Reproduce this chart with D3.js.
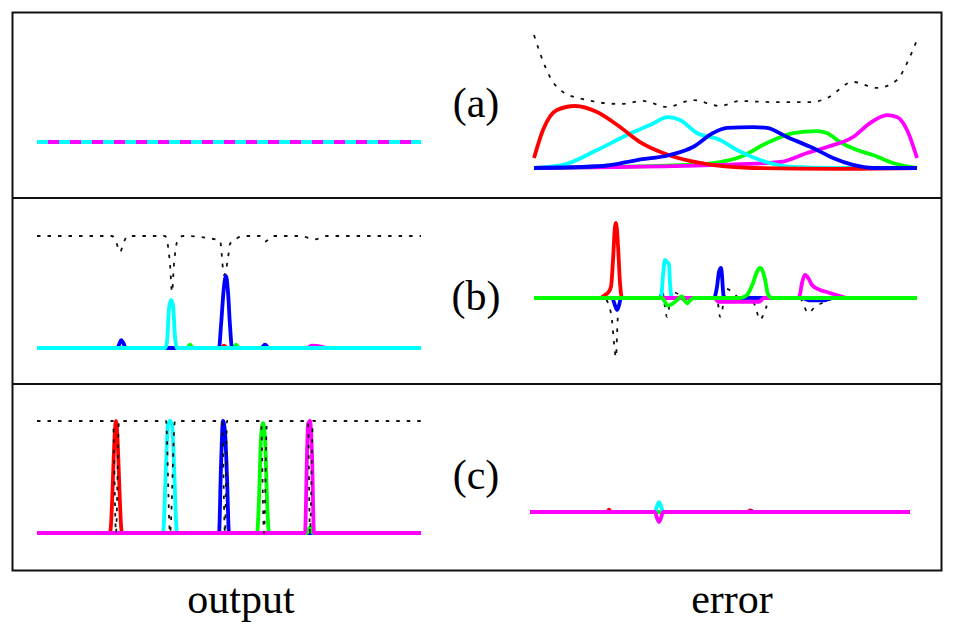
<!DOCTYPE html>
<html>
<head>
<meta charset="utf-8">
<script src="https://cdn.jsdelivr.net/npm/d3@7"></script>
<style>
  html, body { margin: 0; padding: 0; background: #fff; }
  svg { display: block; }
  text { font-family: "Liberation Serif", "DejaVu Serif", serif; fill: #000; }
</style>
</head>
<body>
<svg id="chart" width="955" height="634"></svg>
<script>
// ---------- data (sample position, value) ----------
const panelLabels = ["(a)", "(b)", "(c)"];
const columnLabels = ["output", "error"];
const seriesNames = ["red", "cyan", "blue", "green", "magenta", "total"];

// (a) output : all components flat at zero
const aOutRed = [[0,0],[384,0]];
const aOutCyan = [[0,0],[384,0]];
const aOutBlue = [[0,0],[384,0]];
const aOutGreen = [[0,0],[384,0]];
const aOutMagenta = [[0,0],[384,0]];

// (a) error
const aErrTotal = [[0,1.0],[6,0.865],[16,0.684],[29,0.571],[53,0.511],[86,0.481],[109,0.504],[133,0.459],[159,0.511],[186,0.466],[206,0.504],[236,0.496],[279,0.496],[293,0.526],[319,0.647],[343,0.602],[363,0.662],[373,0.789],[383,0.962]];
const aErrRed = [[0,0.075],[9,0.286],[23,0.436],[41,0.466],[63,0.421],[86,0.308],[106,0.195],[129,0.113],[166,0.038],[219,0.0],[300,-0.006],[383,0]];
const aErrCyan = [[0,0],[29,0.023],[63,0.135],[93,0.248],[116,0.323],[134,0.383],[146,0.361],[163,0.263],[186,0.211],[203,0.135],[226,0.060],[259,0.008],[300,0],[383,0]];
const aErrBlue = [[0,0],[69,0.015],[103,0.06],[136,0.098],[159,0.158],[179,0.263],[193,0.301],[219,0.308],[233,0.301],[253,0.233],[279,0.15],[299,0.075],[319,0.023],[339,0],[383,0]];
const aErrGreen = [[0,0],[153,0.023],[186,0.045],[206,0.083],[233,0.188],[259,0.263],[283,0.278],[293,0.263],[306,0.195],[323,0.135],[339,0.098],[359,0.038],[383,0]];
const aErrMagenta = [[0,0],[186,0.023],[246,0.045],[273,0.113],[293,0.158],[319,0.233],[336,0.338],[353,0.398],[363,0.383],[373,0.286],[383,0.075]];

// (b) output
const bOutTotal = [[0,1],[75,1],[79,0.95],[83,0.857],[87,0.95],[91,1],[128,1],[133,0.75],[135,0.5],[137,0.75],[141,0.97],[146,1],[183,0.96],[187,0.65],[191,0.8],[193,0.93],[200,0.98],[205,1],[223,1],[228,0.95],[236,1],[263,1],[278,0.97],[290,1],[384,1]];
const bOutRed = [[0,0],[184,0],[187,0.02],[190,0],[384,0]];
const bOutCyan = [[0,0],[128,0],[130,0.05],[132,0.35],[134,0.43],[136,0.38],[138,0.1],[140,0],[384,0]];
const bOutBlue = [[0,0],[80,0],[83,0.05],[84,0.07],[86,0.05],[89,0],[182,0],[184,0.2],[187,0.55],[189,0.643],[191,0.5],[193,0.2],[195,0],[224,0],[228,0.03],[232,0],[384,0]];
const bOutGreen = [[0,0],[150,0],[153,0.03],[156,0],[196,0],[199,0.03],[202,0],[384,0]];
const bOutMagenta = [[0,0],[270,0],[275,0.02],[285,0.01],[290,0],[384,0]];

// (b) error
const bErrTotal = [[0,0],[71,0],[74,-0.07],[78,-0.3],[80,-0.6],[82,-0.79],[83,-0.5],[84,-0.2],[86,0],[125,0],[128,0.1],[133,-0.25],[138,0.08],[146,0.03],[150,-0.04],[155,0],[183,0],[186,-0.25],[193,0.12],[199,0.07],[206,0],[216,0],[221,-0.1],[226,-0.29],[232,-0.13],[236,0],[266,0],[269,-0.07],[274,-0.2],[281,-0.12],[291,-0.05],[299,-0.01],[305,0],[383,0]];
const bErrRed = [[0,0],[66,0],[71,0.04],[74,0.07],[77,0.15],[79,0.5],[81,0.95],[82,1.0],[84,0.7],[86,0.2],[88,0],[383,0]];
const bErrCyan = [[0,0],[127,0],[129,0.3],[131,0.507],[133,0.48],[135,0.45],[136,0.2],[138,0],[220,0],[223,-0.02],[226,0],[383,0]];
const bErrBlue = [[0,0],[78,0],[81,-0.1],[83,-0.16],[85,-0.1],[87,0],[180,0],[183,0.15],[185,0.35],[187,0.4],[188,0.3],[189,0.1],[190,0],[268,0],[275,-0.03],[290,-0.03],[298,0],[383,0]];
const bErrGreen = [[0,0],[128,0],[131,-0.05],[133,-0.1],[137,-0.09],[142,-0.04],[148,0.02],[150,-0.02],[153,-0.07],[157,-0.02],[160,0],[206,0],[213,0.04],[219,0.2],[223,0.35],[226,0.4],[228,0.38],[231,0.25],[234,0.05],[238,0],[383,0]];
const bErrMagenta = [[0,0],[180,0],[185,-0.05],[225,-0.05],[230,0],[264,0],[266,0.05],[268,0.2],[271,0.307],[275,0.25],[278,0.173],[286,0.107],[293,0.08],[299,0.053],[306,0.027],[313,0],[383,0]];

// (c) output
const cOutTotal = [[0,1],[76,1],[79,0],[82,1],[129,1],[133,0],[138,1],[185,1],[188,0],[190,1],[224,1],[227,0],[230,1],[271,1],[273,0],[276,1],[384,1]];
const cOutRed = [[0,0],[73,0],[79,1.0],[85,0],[384,0]];
const cOutCyan = [[0,0],[126,0],[129,0.6],[131,0.97],[133,1.0],[135,0.97],[137,0.6],[140,0],[384,0]];
const cOutBlue = [[0,0],[182,0],[184,0.6],[186,1.0],[188,0.9],[190,0.5],[192,0],[384,0]];
const cOutGreen = [[0,0],[220,0],[222,0.3],[224,0.85],[226,0.98],[228,0.85],[230,0.3],[232,0],[270,0],[273,0.05],[276,0],[384,0]];
const cOutMagenta = [[0,0],[268,0],[270,0.7],[271,0.97],[273,1.0],[275,0.7],[277,0],[384,0]];

// (c) error
const cErrTotal = [[0,0],[380,0]];
const cErrRed = [[0,0],[77,0],[79,0.03],[81,0],[218,0],[220,0.02],[222,0],[380,0]];
const cErrCyan = [[0,0],[125,0],[127,0.08],[129,0.133],[131,0.08],[133,0],[380,0]];
const cErrBlue = [[0,0],[220,0],[222,0.01],[224,0],[380,0]];
const cErrGreen = [[0,0],[380,0]];
const cErrMagenta = [[0,0],[125,0],[127,-0.08],[129,-0.133],[131,-0.08],[133,0],[380,0]];

// ---------- styles ----------
const colors = { red: "#ff0000", cyan: "#00ffff", blue: "#0000ff", green: "#00ff00", magenta: "#ff00ff", total: "#000" };

const svg = d3.select("#chart");

// frame
svg.append("rect").attr("x", 12.5).attr("y", 12.5).attr("width", 929).attr("height", 558)
  .attr("fill", "none").attr("stroke", "#111").attr("stroke-width", 2);
[198, 384].forEach(y => {
  svg.append("line").attr("x1", 12).attr("x2", 942).attr("y1", y).attr("y2", y)
    .attr("stroke", "#111").attr("stroke-width", 2);
});

function drawPlot(cfg) {
  const x = d3.scaleLinear().domain(cfg.xDomain).range(cfg.xRange);
  const y = d3.scaleLinear().domain(cfg.yDomain).range(cfg.yRange);
  const line = d3.line().x(d => x(d[0])).y(d => y(d[1])).curve(d3.curveMonotoneX);
  const g = svg.append("g");
  cfg.order.forEach(([name, data, dash]) => {
    const p = g.append("path").datum(data).attr("d", line).attr("fill", "none")
      .attr("stroke", colors[name]);
    if (name === "total") {
      p.attr("stroke-width", 1.8).attr("stroke-dasharray", "3.5,7").attr("stroke", "#111");
    } else {
      p.attr("stroke-width", 3.8).attr("stroke-linejoin", "round");
      if (dash) p.attr("stroke-dasharray", dash);
    }
  });
}

const leftX = [37, 421], rightX = [534, 917];

// (a)
drawPlot({ xDomain: [0, 384], xRange: leftX, yDomain: [0, 1], yRange: [142, 30],
  order: [["red", aOutRed], ["green", aOutGreen], ["blue", aOutBlue], ["magenta", aOutMagenta], ["cyan", aOutCyan, "11,11"]] });
drawPlot({ xDomain: [0, 383], xRange: rightX, yDomain: [0, 1], yRange: [168, 35],
  order: [["total", aErrTotal], ["green", aErrGreen], ["magenta", aErrMagenta], ["cyan", aErrCyan], ["red", aErrRed], ["blue", aErrBlue]] });

// (b)
drawPlot({ xDomain: [0, 384], xRange: leftX, yDomain: [0, 1], yRange: [348, 236],
  order: [["total", bOutTotal], ["red", bOutRed], ["green", bOutGreen], ["magenta", bOutMagenta], ["blue", bOutBlue], ["cyan", bOutCyan]] });
drawPlot({ xDomain: [0, 383], xRange: rightX, yDomain: [-1, 1], yRange: [373, 223],
  order: [["total", bErrTotal], ["red", bErrRed], ["cyan", bErrCyan], ["blue", bErrBlue], ["magenta", bErrMagenta], ["green", bErrGreen]] });

// (c)
drawPlot({ xDomain: [0, 384], xRange: leftX, yDomain: [0, 1], yRange: [533, 421],
  order: [["red", cOutRed], ["cyan", cOutCyan], ["blue", cOutBlue], ["green", cOutGreen], ["magenta", cOutMagenta], ["total", cOutTotal]] });
drawPlot({ xDomain: [0, 380], xRange: [530, 910], yDomain: [-1, 1], yRange: [587, 437],
  order: [["total", cErrTotal], ["red", cErrRed], ["blue", cErrBlue], ["green", cErrGreen], ["cyan", cErrCyan], ["magenta", cErrMagenta]] });

// panel labels
const labelY = [117, 310, 489];
panelLabels.forEach((t, i) => {
  svg.append("text").attr("x", 476).attr("y", labelY[i]).attr("text-anchor", "middle")
    .attr("font-size", 42).text(t);
});

// column labels
svg.append("text").attr("x", 241).attr("y", 613).attr("text-anchor", "middle").attr("font-size", 42).text(columnLabels[0]);
svg.append("text").attr("x", 732).attr("y", 613).attr("text-anchor", "middle").attr("font-size", 42).text(columnLabels[1]);
</script>
</body>
</html>
